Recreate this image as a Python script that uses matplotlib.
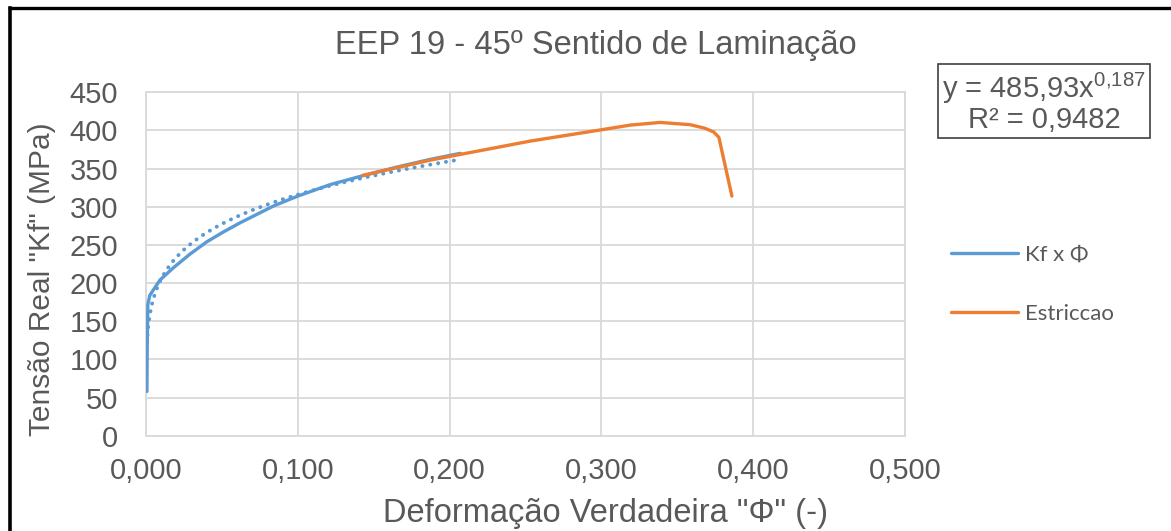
import numpy as np
import matplotlib
matplotlib.use("Agg")
import matplotlib.pyplot as plt
from matplotlib.lines import Line2D

# curva de escoamento (Kf x Phi)
phi_kf = [0.0006, 0.0008, 0.0012, 0.0025, 0.0092, 0.0180, 0.0290, 0.0400, 0.0510,
          0.0620, 0.0730, 0.0840, 0.1000, 0.1213, 0.1433, 0.1653, 0.1870, 0.2070]
kf = [58, 120, 172, 184, 204, 220, 238, 254, 267,
      279, 290, 301, 314, 329, 341, 352, 362, 370]

# trecho de estriccao
phi_est = [0.1426, 0.1870, 0.2530, 0.3004, 0.3190, 0.3388, 0.3586, 0.3680, 0.3740, 0.3774, 0.3860]
kf_est = [341, 361, 386, 401, 407, 410.5, 407.5, 403, 398, 391, 314]

# linha de tendencia (potencia)
coef_a = 485.93
coef_b = 0.187
r2 = 0.9482

azul = "#5B9BD5"
laranja = "#ED7D31"
cinza = "#595959"
fonte = "Liberation Sans"

plt.rcParams["mathtext.fontset"] = "custom"
plt.rcParams["mathtext.rm"] = fonte
plt.rcParams["mathtext.it"] = fonte
plt.rcParams["mathtext.default"] = "rm"

fig = plt.figure(figsize=(11.71, 5.31), dpi=100)
ax = fig.add_axes([0.1247, 0.1795, 0.6481, 0.6467])

x_fit = np.linspace(min(phi_kf), max(phi_kf), 400)
y_fit = coef_a * x_fit ** coef_b

ax.plot(phi_kf, kf, color=azul, lw=2.4, solid_capstyle="round", solid_joinstyle="round",
        label="Kf x Φ", zorder=3)
ax.plot(x_fit, y_fit, color=azul, lw=2.8, linestyle=(0, (0.05, 2.0)),
        dash_capstyle="round", zorder=3)
ax.plot(phi_est, kf_est, color=laranja, lw=2.4, solid_capstyle="round", solid_joinstyle="round",
        label="Estriccao", zorder=4)

ax.set_xlim(0, 0.5)
ax.set_ylim(0, 450)
ax.set_xticks(np.arange(0, 0.51, 0.1))
ax.set_yticks(np.arange(0, 451, 50))
ax.set_xticklabels([f"{v:.3f}".replace(".", ",") for v in np.arange(0, 0.51, 0.1)])
ax.grid(True, color="#D9D9D9", lw=1.3)
ax.set_axisbelow(True)
for s in ax.spines.values():
    s.set_color("#D9D9D9")
    s.set_linewidth(1.3)
ax.tick_params(length=0, labelsize=21, colors=cinza)
ax.tick_params(axis="x", pad=15.5)
ax.tick_params(axis="y", pad=20)
for lab in ax.get_xticklabels() + ax.get_yticklabels():
    lab.set_fontfamily(fonte)

# titulo e rotulos dos eixos
fig.text(0.509, 0.915, "EEP 19 - 45º Sentido de Laminação", fontsize=23.5, color=cinza,
         fontfamily=fonte, ha="center", va="center")
fig.text(0.5175, 0.0165, 'Deformação Verdadeira "Φ" (-)', fontsize=23.5, color=cinza,
         fontfamily=fonte, ha="center", va="baseline")
fig.text(0.0359, 0.4746, 'Tensão Real "Kf" (MPa)', fontsize=21.5, color=cinza,
         fontfamily=fonte, ha="center", va="center", rotation=90)

# caixa com a equacao
eq = f"y = {coef_a:.2f}".replace(".", ",") + "x$^{" + f"{coef_b:.3f}".replace(".", "{,}") + "}$"
eq_txt = eq + "\n" + "R² = " + f"{r2:.4f}".replace(".", ",")
fig.text(0.8915, 0.808, eq_txt, fontsize=21, color=cinza, fontfamily=fonte,
         ha="center", va="center", linespacing=1.0,
         bbox=dict(boxstyle="square,pad=0.15", fc="white", ec="#404040", lw=1.2))

# legenda
fig.legend(handles=[Line2D([], [], color=azul, lw=2.4, solid_capstyle="round"),
                    Line2D([], [], color=laranja, lw=2.4, solid_capstyle="round")],
           labels=["Kf x Φ", "Estriccao"], loc="center left",
           bbox_to_anchor=(0.795, 0.464), frameon=False, handlelength=3.0,
           handletextpad=0.35, labelspacing=1.75,
           prop={"family": "Lato", "size": 16}, labelcolor=cinza)

# moldura
fig.add_artist(Line2D([9.5 / 1171, 9.5 / 1171], [0, 1 - 7.5 / 531],
                      transform=fig.transFigure, color="black", lw=2.6))
fig.add_artist(Line2D([9.5 / 1171, 1], [1 - 7.5 / 531, 1 - 7.5 / 531],
                      transform=fig.transFigure, color="black", lw=2.4))

fig.savefig("out.png", dpi=100)
